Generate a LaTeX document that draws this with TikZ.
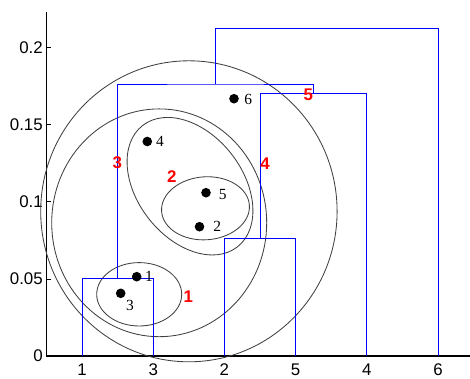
\documentclass[tikz,border=0pt]{standalone}
\usepackage{fontspec}
\setmainfont{Liberation Serif}
\setsansfont{Liberation Sans}
\usetikzlibrary{positioning}
\definecolor{LinkBlue}{RGB}{0,0,255}
\definecolor{StepRed}{RGB}{255,0,0}

\begin{document}
\begin{tikzpicture}[x=0.025cm, y=0.025cm,
        axis/.style={line width=0.8pt, black},
        link/.style={line width=0.7pt, LinkBlue},
    hull/.style={line width=0.6pt, black!75},
    obj/.style={circle, fill=black, inner sep=0pt, minimum size=2.4mm},
    objlabel/.style={inner sep=0pt, font=\fontsize{11}{12}\selectfont},
        steplabel/.style={inner sep=0pt, text=StepRed, font=\sffamily\bfseries\fontsize{12}{14}\selectfont},
    tick/.style={inner sep=0pt, font=\sffamily\fontsize{12}{14}\selectfont}
]
    \useasboundingbox (0,0) rectangle (470,378);

    % axes
    \coordinate (o) at (46.5,22);
    \coordinate (ytop) at (46.5,366);
    \coordinate (xend) at (470,22);
    \draw[axis] (ytop) -- (o) -- (xend);
    \foreach \v/\lab [count=\i] in {0/0, 0.05/0.05, 0.1/0.1, 0.15/0.15, 0.2/0.2} {
        \draw[line width=0.5pt] (46.5,22+1542*\v) -- ++(5,0);
        \node[tick, anchor=east] (yt\i) at (43,22+1542*\v) {\lab};
    }
    \foreach \x/\lab [count=\i] in {82/1, 153.2/3, 224.4/2, 295.6/5, 366.8/4, 438/6} {
        \coordinate (leaf\lab) at (\x,22);
        \node[tick] (xt\i) at (\x,8.5) {\lab};
    }

    % cluster hulls
    \draw[hull] (139.2,83.7) ellipse [x radius=42.5, y radius=31.7];
    \draw[hull, rotate around={4:(205.5,169.7)}] (205.5,169.7) ellipse [x radius=44, y radius=31.5];
    \draw[hull, rotate around={-52:(190,191.8)}] (190,191.8) ellipse [x radius=77, y radius=52.5];
    \draw[hull] (159.2,155.2) ellipse [x radius=107.5, y radius=113.9];
    \draw[hull] (188.9,166.7) ellipse [x radius=148.2, y radius=150.5];

    % dendrogram
    \coordinate (m13) at (117.6,99.3);
    \coordinate (m25) at (260,139.7);
    \coordinate (m254) at (313.4,284.3);
    \coordinate (m13254) at (215.5,294);
    \coordinate (mall) at (326.75,349.3);
    \draw[link] (leaf1) |- (m13) -| (leaf3);
    \draw[link] (leaf2) |- (m25) -| (leaf5);
    \draw[link] (m25) |- (m254) -| (leaf4);
    \draw[link] (m13) |- (m13254) -| (m254);
    \draw[link] (m13254) |- (mall) -| (leaf6);

    % objects
    \node[obj] (o1) at (136.7,101.3) {};
    \node[obj] (o2) at (199.5,151.3) {};
    \node[obj] (o3) at (120.7,84.7) {};
    \node[obj] (o4) at (147.3,236.5) {};
    \node[obj] (o5) at (206,185.3) {};
    \node[obj] (o6) at (234,279.3) {};
    \node[objlabel] (t1) at (149,101.5) {1};
    \node[objlabel] (t2) at (217.3,152) {2};
    \node[objlabel] (t3) at (130,73) {3};
    \node[objlabel] (t4) at (160,236.3) {4};
    \node[objlabel] (t5) at (222.7,183) {5};
    \node[objlabel] (t6) at (248.3,278.7) {6};

    % merge steps
    \node[steplabel] (s1) at (188.3,81.3) {1};
    \node[steplabel] (s2) at (171.7,201.3) {2};
    \node[steplabel] (s3) at (117.3,215.3) {3};
    \node[steplabel] (s4) at (265,214.7) {4};
    \node[steplabel] (s5) at (308.3,283.7) {5};
\end{tikzpicture}
\end{document}
